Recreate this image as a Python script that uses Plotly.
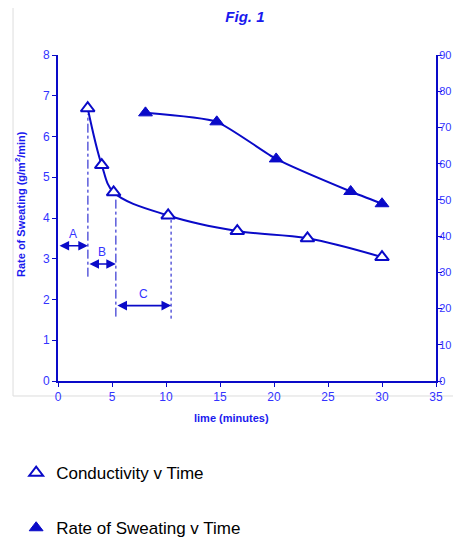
import plotly.graph_objects as go

# values
COND_TIME = [2.75, 4.05, 5.15, 10.2, 16.6, 23.1, 30.0]
COND_VALUE = [75.3, 59.6, 52.1, 45.7, 41.4, 39.4, 34.2]   # right axis units

SWEAT_TIME = [8.1, 14.7, 20.2, 27.1, 30.0]
SWEAT_RATE = [6.58, 6.36, 5.45, 4.65, 4.35]                # g/m2/min

PHASE_LABELS = ["A", "B", "C"]
PHASE_BOUNDS = [0.0, 2.77, 5.36, 10.47]
PHASE_ARROW_Y = [3.32, 2.87, 1.85]
PHASE_LINE_TOP = [6.55, 4.5, 3.95]
PHASE_LINE_BOTTOM = [2.56, 1.58, 1.53]

LINE = "#0a0ac8"
TICK = "#3333ff"
TITLE = "#1a1aee"
FONT = "Arial, Liberation Sans, sans-serif"

# page body has an 8px margin, so the figure is 8px smaller than the window
W, H = 453, 531

fig = go.Figure()

# smoothed lines (no legend)
fig.add_trace(go.Scatter(
    x=COND_TIME, y=COND_VALUE, yaxis="y2", mode="lines",
    line={"color": LINE, "width": 2, "shape": "spline"},
    showlegend=False, hoverinfo="skip",
))
fig.add_trace(go.Scatter(
    x=SWEAT_TIME, y=SWEAT_RATE, mode="lines",
    line={"color": LINE, "width": 2, "shape": "spline", "smoothing": 0.5},
    showlegend=False, hoverinfo="skip",
))

# markers (legend entries)
fig.add_trace(go.Scatter(
    x=COND_TIME, y=COND_VALUE, yaxis="y2", mode="markers",
    marker={"symbol": "triangle-up", "size": 12, "color": "white",
            "line": {"color": LINE, "width": 2}},
    name="Conductivity v Time", legendgroup="c",
))
fig.add_trace(go.Scatter(
    x=SWEAT_TIME, y=SWEAT_RATE, mode="markers",
    marker={"symbol": "triangle-up", "size": 12, "color": LINE,
            "line": {"color": LINE, "width": 1}},
    name="Rate of Sweating v Time", legendgroup="s",
))

# phase markers A, B, C
dashes = ["dashdot", "dashdot", "dot"]
for i, label in enumerate(PHASE_LABELS):
    x0, x1 = PHASE_BOUNDS[i], PHASE_BOUNDS[i + 1]
    fig.add_shape(
        type="line", xref="x", yref="y", layer="below",
        x0=x1, x1=x1, y0=PHASE_LINE_BOTTOM[i], y1=PHASE_LINE_TOP[i],
        line={"color": LINE, "width": 1, "dash": dashes[i]},
    )
    fig.add_annotation(
        x=x1, y=PHASE_ARROW_Y[i], ax=x0, ay=PHASE_ARROW_Y[i],
        xref="x", yref="y", axref="x", ayref="y",
        text="", showarrow=True, arrowside="end+start",
        arrowhead=2, arrowsize=1.2, arrowwidth=1.6, arrowcolor=LINE,
        standoff=0, startstandoff=0,
    )
    fig.add_annotation(
        x=(x0 + x1) / 2, y=PHASE_ARROW_Y[i], xref="x", yref="y",
        text=label, showarrow=False, yshift=12,
        font={"color": TICK, "size": 12, "family": FONT},
    )

# axis titles as annotations
fig.add_annotation(
    x=0.4595, y=-0.1135, xref="paper", yref="paper", showarrow=False,
    xanchor="center", yanchor="middle",
    text="<b>lime (minutes)</b>", font={"color": TITLE, "size": 11, "family": FONT},
)
fig.add_annotation(
    x=-0.1005, y=0.543, xref="paper", yref="paper", showarrow=False, textangle=-90,
    xanchor="center", yanchor="middle",
    text="<b>Rate of Sweating (g/m<sup>2</sup>/min)</b>",
    font={"color": TITLE, "size": 11, "family": FONT},
)

# faint chart-area frame
fig.add_shape(
    type="rect", xref="paper", yref="paper",
    x0=-0.119, x1=1.2, y0=-0.046, y1=1.2,
    line={"color": "#dddddd", "width": 1}, layer="below",
)

axis_common = {
    "showgrid": False, "zeroline": False, "showline": True,
    "linecolor": LINE, "linewidth": 2, "ticks": "outside",
    "tickcolor": LINE, "ticklen": 4, "tickwidth": 1,
    "tickfont": {"color": TICK, "size": 12, "family": FONT},
}

fig.update_layout(
    width=W, height=H,
    margin={"l": 50, "r": 25, "t": 47, "b": 158, "autoexpand": False},
    paper_bgcolor="white", plot_bgcolor="white",
    font={"family": FONT, "color": TICK},
    title={"text": "<b><i>Fig. 1</i></b>", "x": 0.523, "xanchor": "center",
           "y": 0.983, "yanchor": "middle",
           "font": {"color": TITLE, "size": 15, "family": FONT}},
    xaxis={**axis_common, "range": [0, 35], "dtick": 5},
    yaxis={**axis_common, "range": [0, 8], "dtick": 1},
    yaxis2={**axis_common, "range": [0, 90], "dtick": 10, "overlaying": "y",
            "side": "right", "ticklabelstandoff": -5,
            "tickfont": {"color": TICK, "size": 11, "family": FONT}},
    showlegend=True,
    legend={"xref": "container", "yref": "container", "x": 0.018, "y": 0.158,
            "xanchor": "left", "yanchor": "top",
            "font": {"color": "black", "size": 17, "family": FONT},
            "traceorder": "grouped", "tracegroupgap": 30,
            "itemsizing": "trace", "bgcolor": "rgba(0,0,0,0)"},
)

fig.write_html("out.html")
